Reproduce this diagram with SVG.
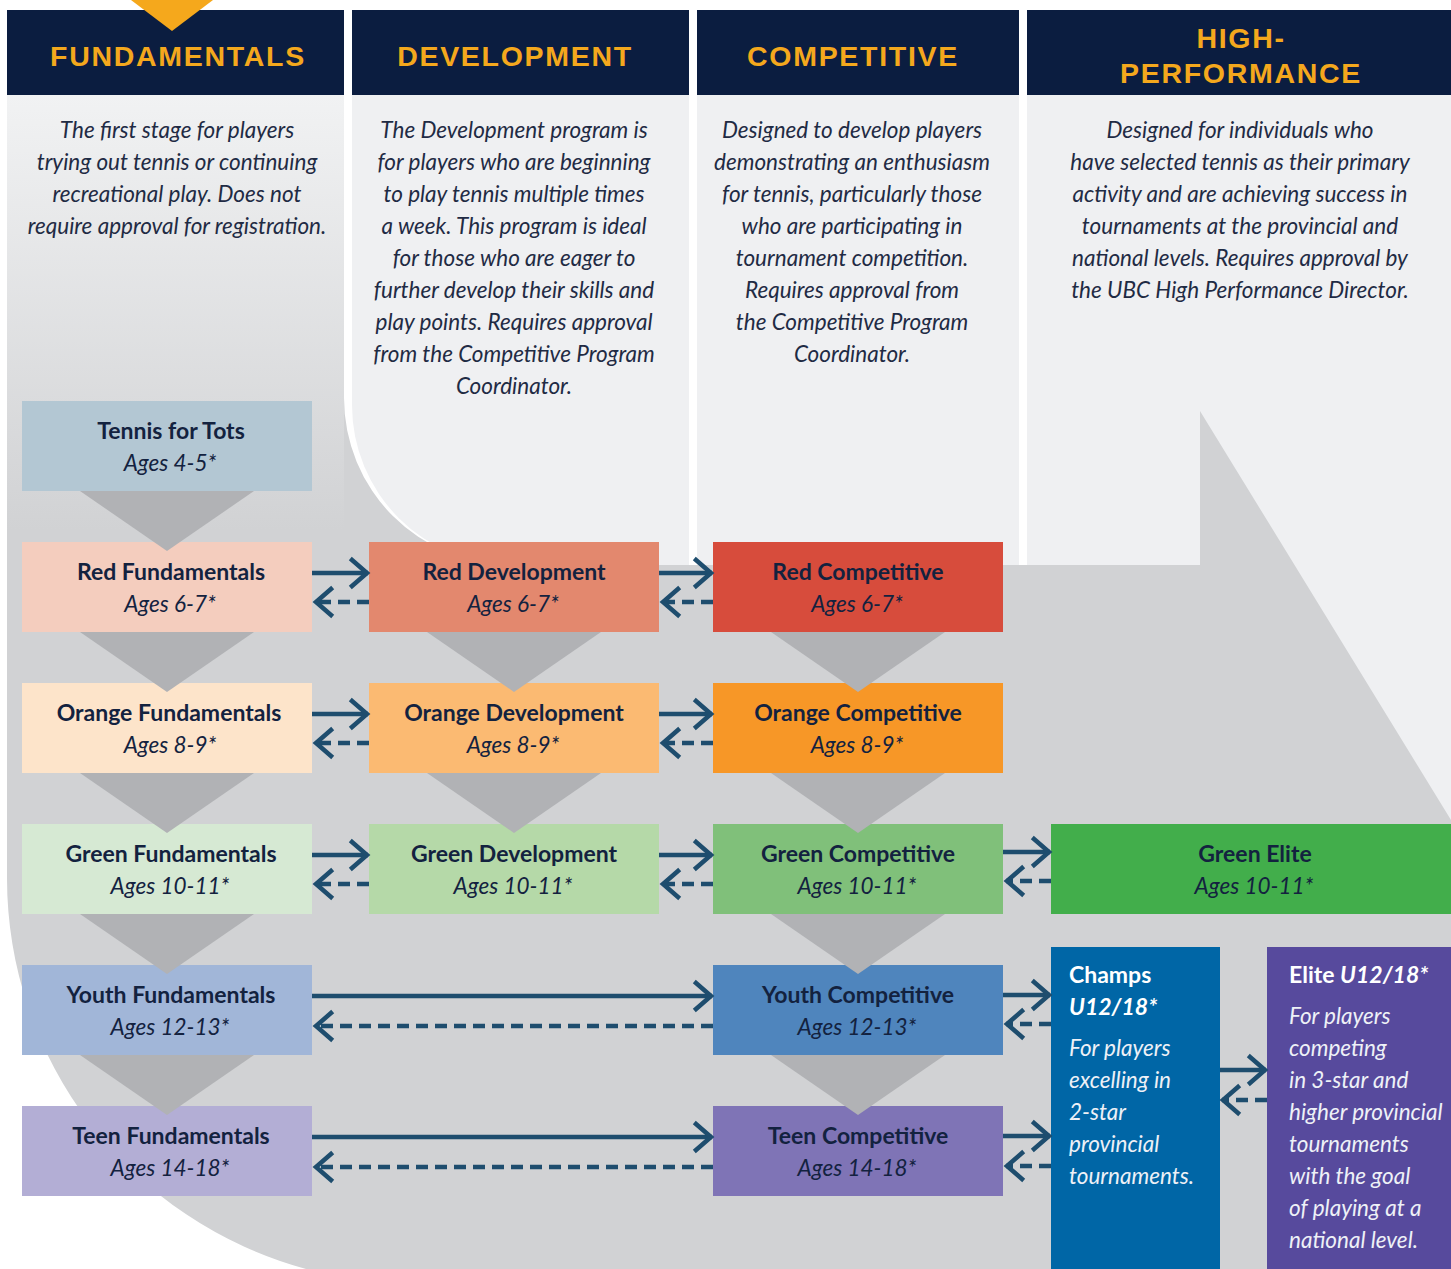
<svg xmlns="http://www.w3.org/2000/svg" width="1451" height="1269" viewBox="0 0 1451 1269">
<defs>
<linearGradient id="col1grad" gradientUnits="userSpaceOnUse" x1="0" y1="95" x2="0" y2="530">
<stop offset="0" stop-color="#f1f2f3"/>
<stop offset="1" stop-color="#d1d2d4"/>
</linearGradient>
<marker id="head" markerUnits="userSpaceOnUse" viewBox="-24 -18 30 36" refX="0" refY="0" markerWidth="30" markerHeight="36" orient="auto" overflow="visible">
<path d="M -16 -13 L -1 0 L -16 13" fill="none" stroke="#1e4d6e" stroke-width="4.5" stroke-linecap="square"/>
</marker>
<style>
.hdr{fill:#0b1d40}
.htx{font-family:"Liberation Sans",Arial,sans-serif;font-weight:700;font-size:28.5px;letter-spacing:1.7px;fill:#f4a81d;text-anchor:middle}
.desc{font-family:Lato,"Liberation Sans",sans-serif;font-style:italic;font-size:22.5px;fill:#1f2b44;text-anchor:middle}
.ttl{font-family:Lato,"Liberation Sans",sans-serif;font-weight:700;font-size:23px;fill:#13223f;text-anchor:middle}
.age{font-family:Lato,"Liberation Sans",sans-serif;font-style:italic;font-size:22.5px;fill:#13223f;text-anchor:middle}
.wt{font-family:Lato,"Liberation Sans",sans-serif;font-weight:700;font-size:23px;fill:#ffffff}
.wd{font-family:Lato,"Liberation Sans",sans-serif;font-style:italic;font-size:22.5px;fill:#eef1f7}
.tri{fill:#b1b2b5}
.sol{stroke:#1e4d6e;stroke-width:4.5;fill:none;marker-end:url(#head)}
.dsh{stroke:#1e4d6e;stroke-width:4.5;fill:none;stroke-dasharray:12 7;marker-end:url(#head)}
</style>
</defs>
<rect x="0" y="0" width="1451" height="1269" fill="#ffffff"/>
<g id="background">
<rect x="1027" y="95" width="424" height="1174" fill="#eff0f2"/>
<path d="M 7 95 H 344 V 398 A 167 167 0 0 0 511 565 H 1200 V 411 L 1451 820 V 1269 H 306 A 405 405 0 0 1 7 878 Z" fill="#d1d2d4"/>
<rect x="7" y="95" width="337" height="440" fill="url(#col1grad)"/>
<path d="M 352 95 H 689 V 565 H 512 A 160 160 0 0 1 352 405 Z" fill="#eff0f2"/>
<rect x="697" y="95" width="322" height="470" fill="#eff0f2"/>
</g>
<g id="headers">
<rect class="hdr" x="7" y="10" width="337" height="85"/>
<rect class="hdr" x="352" y="10" width="337" height="85"/>
<rect class="hdr" x="697" y="10" width="322" height="85"/>
<rect class="hdr" x="1027" y="10" width="424" height="85"/>
<polygon points="131,0 213,0 172,31" fill="#f5a81c"/>
<text class="htx" x="178" y="66">FUNDAMENTALS</text>
<text class="htx" x="515" y="66">DEVELOPMENT</text>
<text class="htx" x="853" y="66">COMPETITIVE</text>
<text class="htx" x="1241" y="48">HIGH-</text>
<text class="htx" x="1241" y="83">PERFORMANCE</text>
</g>
<g id="descriptions">
<text class="desc" x="177" y="138">The first stage for players</text>
<text class="desc" x="177" y="170">trying out tennis or continuing</text>
<text class="desc" x="177" y="202">recreational play. Does not</text>
<text class="desc" x="177" y="234">require approval for registration.</text>
<text class="desc" x="514" y="138">The Development program is</text>
<text class="desc" x="514" y="170">for players who are beginning</text>
<text class="desc" x="514" y="202">to play tennis multiple times</text>
<text class="desc" x="514" y="234">a week. This program is ideal</text>
<text class="desc" x="514" y="266">for those who are eager to</text>
<text class="desc" x="514" y="298">further develop their skills and</text>
<text class="desc" x="514" y="330">play points. Requires approval</text>
<text class="desc" x="514" y="362">from the Competitive Program</text>
<text class="desc" x="514" y="394">Coordinator.</text>
<text class="desc" x="852" y="138">Designed to develop players</text>
<text class="desc" x="852" y="170">demonstrating an enthusiasm</text>
<text class="desc" x="852" y="202">for tennis, particularly those</text>
<text class="desc" x="852" y="234">who are participating in</text>
<text class="desc" x="852" y="266">tournament competition.</text>
<text class="desc" x="852" y="298">Requires approval from</text>
<text class="desc" x="852" y="330">the Competitive Program</text>
<text class="desc" x="852" y="362">Coordinator.</text>
<text class="desc" x="1240" y="138">Designed for individuals who</text>
<text class="desc" x="1240" y="170">have selected tennis as their primary</text>
<text class="desc" x="1240" y="202">activity and are achieving success in</text>
<text class="desc" x="1240" y="234">tournaments at the provincial and</text>
<text class="desc" x="1240" y="266">national levels. Requires approval by</text>
<text class="desc" x="1240" y="298">the UBC High Performance Director.</text>
</g>
<g id="tots"><rect x="22" y="401" width="290" height="90" fill="#b3c7d3"/><text class="ttl" x="171" y="439">Tennis for Tots</text><text class="age" x="170" y="471">Ages 4-5*</text></g>
<g id="red-fund"><rect x="22" y="542" width="290" height="90" fill="#f4cdbe"/><text class="ttl" x="171" y="580">Red Fundamentals</text><text class="age" x="170" y="612">Ages 6-7*</text></g>
<g id="red-dev"><rect x="369" y="542" width="290" height="90" fill="#e3886e"/><text class="ttl" x="514" y="580">Red Development</text><text class="age" x="513" y="612">Ages 6-7*</text></g>
<g id="red-comp"><rect x="713" y="542" width="290" height="90" fill="#d74c3c"/><text class="ttl" x="858" y="580">Red Competitive</text><text class="age" x="857" y="612">Ages 6-7*</text></g>
<g id="orange-fund"><rect x="22" y="683" width="290" height="90" fill="#fde4ca"/><text class="ttl" x="169" y="721">Orange Fundamentals</text><text class="age" x="170" y="753">Ages 8-9*</text></g>
<g id="orange-dev"><rect x="369" y="683" width="290" height="90" fill="#fbba72"/><text class="ttl" x="514" y="721">Orange Development</text><text class="age" x="513" y="753">Ages 8-9*</text></g>
<g id="orange-comp"><rect x="713" y="683" width="290" height="90" fill="#f79727"/><text class="ttl" x="858" y="721">Orange Competitive</text><text class="age" x="857" y="753">Ages 8-9*</text></g>
<g id="green-fund"><rect x="22" y="824" width="290" height="90" fill="#d6e9d3"/><text class="ttl" x="171" y="862">Green Fundamentals</text><text class="age" x="170" y="894">Ages 10-11*</text></g>
<g id="green-dev"><rect x="369" y="824" width="290" height="90" fill="#b5d9a8"/><text class="ttl" x="514" y="862">Green Development</text><text class="age" x="513" y="894">Ages 10-11*</text></g>
<g id="green-comp"><rect x="713" y="824" width="290" height="90" fill="#80c07a"/><text class="ttl" x="858" y="862">Green Competitive</text><text class="age" x="857" y="894">Ages 10-11*</text></g>
<g id="green-elite"><rect x="1051" y="824" width="400" height="90" fill="#42ae4b"/><text class="ttl" x="1255" y="862">Green Elite</text><text class="age" x="1254" y="894">Ages 10-11*</text></g>
<g id="youth-fund"><rect x="22" y="965" width="290" height="90" fill="#a1b6d8"/><text class="ttl" x="171" y="1003">Youth Fundamentals</text><text class="age" x="170" y="1035">Ages 12-13*</text></g>
<g id="youth-comp"><rect x="713" y="965" width="290" height="90" fill="#4f85bd"/><text class="ttl" x="858" y="1003">Youth Competitive</text><text class="age" x="857" y="1035">Ages 12-13*</text></g>
<g id="teen-fund"><rect x="22" y="1106" width="290" height="90" fill="#b3aed5"/><text class="ttl" x="171" y="1144">Teen Fundamentals</text><text class="age" x="170" y="1176">Ages 14-18*</text></g>
<g id="teen-comp"><rect x="713" y="1106" width="290" height="90" fill="#7f74b6"/><text class="ttl" x="858" y="1144">Teen Competitive</text><text class="age" x="857" y="1176">Ages 14-18*</text></g>
<g id="champs"><rect x="1051" y="947" width="169" height="322" fill="#0066a6"/>
<text class="wt" x="1069" y="983">Champs</text>
<text class="wt" x="1069" y="1015" font-style="italic">U12/18*</text>
<text class="wd" x="1069" y="1056">For players</text>
<text class="wd" x="1069" y="1088">excelling in</text>
<text class="wd" x="1069" y="1120">2-star</text>
<text class="wd" x="1069" y="1152">provincial</text>
<text class="wd" x="1069" y="1184">tournaments.</text>
</g>
<g id="elite"><rect x="1267" y="947" width="184" height="322" fill="#574a9d"/>
<text class="wt" x="1289" y="983">Elite <tspan font-style="italic">U12/18*</tspan></text>
<text class="wd" x="1289" y="1024">For players</text>
<text class="wd" x="1289" y="1056">competing</text>
<text class="wd" x="1289" y="1088">in 3-star and</text>
<text class="wd" x="1289" y="1120">higher provincial</text>
<text class="wd" x="1289" y="1152">tournaments</text>
<text class="wd" x="1289" y="1184">with the goal</text>
<text class="wd" x="1289" y="1216">of playing at a</text>
<text class="wd" x="1289" y="1248">national level.</text>
</g>
<g id="connectors">
<polygon class="tri" points="80,491 254,491 167,551"/>
<polygon class="tri" points="80,632 254,632 167,692"/>
<polygon class="tri" points="80,773 254,773 167,833"/>
<polygon class="tri" points="80,914 254,914 167,974"/>
<polygon class="tri" points="80,1055 254,1055 167,1115"/>
<polygon class="tri" points="427,632 601,632 514,692"/>
<polygon class="tri" points="427,773 601,773 514,833"/>
<polygon class="tri" points="771,632 945,632 858,692"/>
<polygon class="tri" points="771,773 945,773 858,833"/>
<polygon class="tri" points="771,914 945,914 858,974"/>
<polygon class="tri" points="771,1055 945,1055 858,1115"/>
<line class="sol" x1="312" y1="573" x2="368" y2="573"/>
<line class="dsh" x1="369" y1="602" x2="315" y2="602"/>
<line class="sol" x1="659" y1="573" x2="712" y2="573"/>
<line class="dsh" x1="713" y1="602" x2="662" y2="602"/>
<line class="sol" x1="312" y1="714" x2="368" y2="714"/>
<line class="dsh" x1="369" y1="743" x2="315" y2="743"/>
<line class="sol" x1="659" y1="714" x2="712" y2="714"/>
<line class="dsh" x1="713" y1="743" x2="662" y2="743"/>
<line class="sol" x1="312" y1="855" x2="368" y2="855"/>
<line class="dsh" x1="369" y1="884" x2="315" y2="884"/>
<line class="sol" x1="659" y1="855" x2="712" y2="855"/>
<line class="dsh" x1="713" y1="884" x2="662" y2="884"/>
<line class="sol" x1="1003" y1="852" x2="1050" y2="852"/>
<line class="dsh" x1="1051" y1="881" x2="1006" y2="881"/>
<line class="sol" x1="312" y1="996" x2="712" y2="996"/>
<line class="dsh" x1="713" y1="1026" x2="315" y2="1026"/>
<line class="sol" x1="1003" y1="995" x2="1050" y2="995"/>
<line class="dsh" x1="1051" y1="1024" x2="1006" y2="1024"/>
<line class="sol" x1="312" y1="1137" x2="712" y2="1137"/>
<line class="dsh" x1="713" y1="1167" x2="315" y2="1167"/>
<line class="sol" x1="1003" y1="1136" x2="1050" y2="1136"/>
<line class="dsh" x1="1051" y1="1166" x2="1006" y2="1166"/>
<line class="sol" x1="1220" y1="1070" x2="1266" y2="1070"/>
<line class="dsh" x1="1267" y1="1100" x2="1222" y2="1100"/>
</g>
</svg>
